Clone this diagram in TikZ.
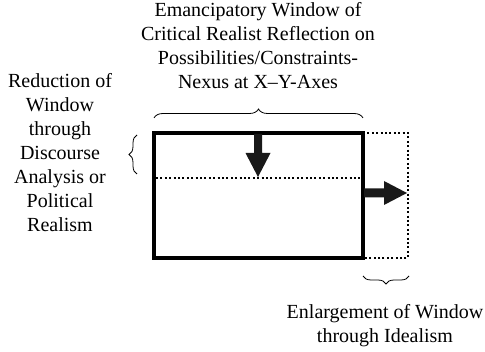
\documentclass[tikz,border=0pt]{standalone}
\usepackage{fontspec}
\setmainfont{Liberation Serif}
\usetikzlibrary{decorations.pathreplacing}
\begin{document}
\begin{tikzpicture}[x=1pt,y=1pt,
  txt/.style={align=center,font=\fontsize{20}{24}\selectfont,inner sep=0pt},
  thickbox/.style={line width=3.6pt},
  dotline/.style={line width=2pt,dash pattern=on 2pt off 2.4pt},
  bigarrow/.style={fill=black!90,draw=none},
  bracestyle/.style={decorate,decoration={brace,amplitude=9pt},line width=0.8pt}]
\useasboundingbox (0,0) rectangle (485,-352);
% coordinates
\coordinate (tl) at (154,-133);
\coordinate (tr) at (363,-133);
\coordinate (bl) at (154,-258);
\coordinate (br) at (363,-258);
\coordinate (etr) at (408,-133);
\coordinate (ebr) at (408,-258);
\coordinate (ml) at (156,-178);
\coordinate (mr) at (362,-178);
% dotted extension and middle line
\draw[dotline] (tr) -- (etr) -- (ebr) -- (br);
\draw[dotline] (ml) -- (mr);
% main window
\draw[thickbox] (tl) rectangle (br);
% down arrow
\fill[bigarrow] (254,-134) -- (262,-134) -- (262,-153) -- (270.5,-153) -- (258,-177) -- (245.5,-153) -- (254,-153) -- cycle;
\coordinate (dtip) at (258,-177);
% right arrow
\fill[bigarrow] (364,-188.5) -- (384,-188.5) -- (384,-181) -- (407,-193) -- (384,-205) -- (384,-197.5) -- (364,-197.5) -- cycle;
\coordinate (rtip) at (407,-193);
% braces
\draw[bracestyle] (154,-118) -- (363,-118);
\draw[bracestyle,decoration={amplitude=8pt}] (137,-174) -- (137,-135);
\draw[bracestyle,decoration={amplitude=8pt}] (409,-276) -- (363,-276);
% texts
\node[txt] (title) at (258,-46) {Emancipatory Window of\\Critical Realist Reflection on\\Possibilities/Constraints-\\Nexus at X--Y-Axes};
\node[txt] (left) at (60,-153) {Reduction of\\Window\\through\\Discourse\\Analysis or\\Political\\Realism};
\node[txt] (bottom) at (385,-326) {Enlargement of Window\\through Idealism};
\end{tikzpicture}
\end{document}
